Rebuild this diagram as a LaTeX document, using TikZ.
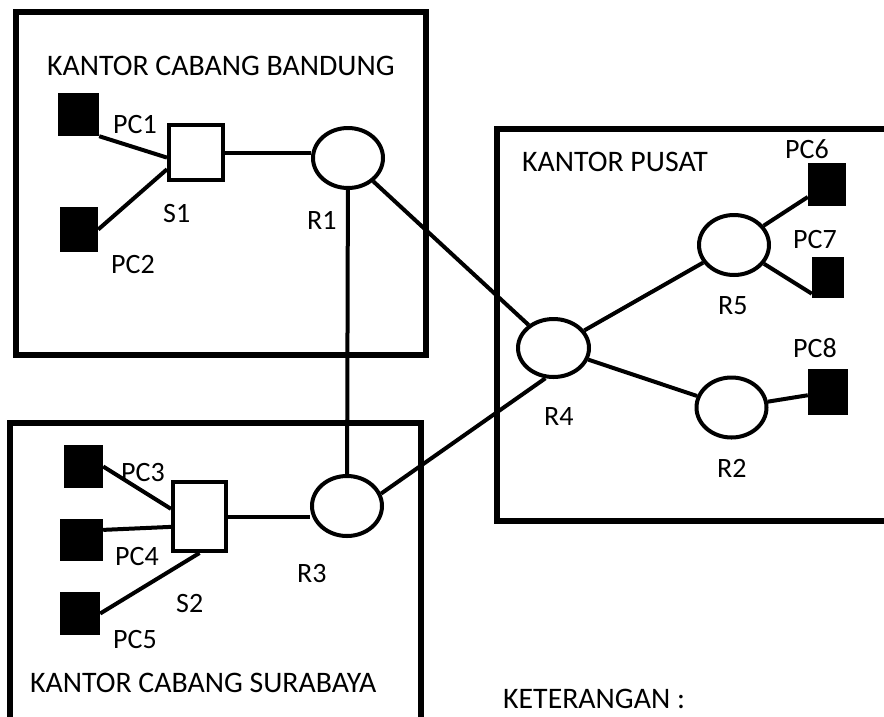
\documentclass[tikz,border=0pt]{standalone}
\usepackage{fontspec}
\setmainfont{Carlito}
\usetikzlibrary{shapes.geometric}

\begin{document}
\begin{tikzpicture}[x=1pt,y=-1pt,
    pc/.style={rectangle, fill=black, inner sep=0pt},
    router/.style={ellipse, draw, line width=4pt, inner sep=0pt, minimum width=70pt, minimum height=60pt},
    switch/.style={rectangle, draw, line width=4pt, inner sep=0pt},
    lbl/.style={anchor=base west, inner sep=0pt, font=\fontsize{28}{30}\selectfont},
    title/.style={lbl, font=\fontsize{29.8}{32}\selectfont},
    link/.style={line width=4pt},
    frame/.style={line width=5.5pt}]
    \useasboundingbox (0,0) rectangle (884,716);
    \clip (0,0) rectangle (884,716);
    % kantor frames
    \draw [frame] (16,12) rectangle (426,355);
    \draw [frame] (10,423) rectangle (421,740);
    \draw [frame] (497,129) rectangle (900,521);
    % bandung
    \node [pc, minimum width=41pt, minimum height=43pt] (PC1) at (78.5,114.5) {};
    \node [pc, minimum width=38pt, minimum height=45pt] (PC2) at (79,229.5) {};
    \node [switch, minimum width=54pt, minimum height=55pt] (S1) at (196,152.5) {};
    \node [router] (R1) at (348,158) {};
    % surabaya
    \node [pc, minimum width=39pt, minimum height=43pt] (PC3) at (83.5,466.5) {};
    \node [pc, minimum width=43pt, minimum height=42pt] (PC4) at (81.5,540) {};
    \node [pc, minimum width=40pt, minimum height=43pt] (PC5) at (80,613.5) {};
    \node [switch, minimum width=53pt, minimum height=69pt] (S2) at (199.5,516.5) {};
    \node [router] (R3) at (347,506) {};
    % pusat
    \node [router, minimum width=71pt, minimum height=58pt] (R4) at (553.5,348) {};
    \node [router] (R5) at (734,245) {};
    \node [router] (R2) at (731.5,407.5) {};
    \node [pc, minimum width=38pt, minimum height=43pt] (PC6) at (827,184.5) {};
    \node [pc, minimum width=32pt, minimum height=41pt] (PC7) at (828,277.5) {};
    \node [pc, minimum width=40pt, minimum height=46pt] (PC8) at (828,392) {};
    % links
    \draw [link] (PC1.south east) -- (S1.190);
    \draw [link] (PC2.east) -- (S1.210);
    \draw [link] (S1) -- (S1 -| R1.west);
    \draw [link] (PC3.east) -- (S2.165);
    \draw [link] (PC4.25) -- (S2.200);
    \draw [link] (PC5.east) -- (S2.south);
    \draw [link] (S2) -- (S2 -| R3.west);
    \draw [link] (R1) -- (R3);
    \draw [link] (R1) -- (R4);
    \draw [link] (R3.20) -- (R4.255);
    \draw [link] (R4) -- (R5);
    \draw [link] (R4) -- (R2);
    \draw [link] (R5) -- (PC6);
    \draw [link] (R5) -- (PC7.225);
    \draw [link] (R2) -- (PC8);
    % labels
    \node [title] (tBandung) at (47,75) {KANTOR CABANG BANDUNG};
    \node [lbl] (tPC1) at (113,133) {PC1};
    \node [lbl] (tS1) at (163,222) {S1};
    \node [lbl] (tPC2) at (111,273) {PC2};
    \node [lbl] (tR1) at (307,229) {R1};
    \node [lbl] (tPC3) at (121,481) {PC3};
    \node [lbl] (tPC4) at (115,565) {PC4};
    \node [lbl] (tPC5) at (113,648) {PC5};
    \node [lbl] (tS2) at (176,612) {S2};
    \node [lbl] (tR3) at (297,582) {R3};
    \node [title] (tSurabaya) at (30,692) {KANTOR CABANG SURABAYA};
    \node [title] (tPusat) at (522,171) {KANTOR PUSAT};
    \node [lbl] (tPC6) at (785,158) {PC6};
    \node [lbl] (tPC7) at (793,248) {PC7};
    \node [lbl] (tR5) at (718,314) {R5};
    \node [lbl] (tPC8) at (793,357) {PC8};
    \node [lbl] (tR4) at (544,425) {R4};
    \node [lbl] (tR2) at (717,477) {R2};
    \node [title] (tKet) at (503,708) {KETERANGAN :};
\end{tikzpicture}
\end{document}
